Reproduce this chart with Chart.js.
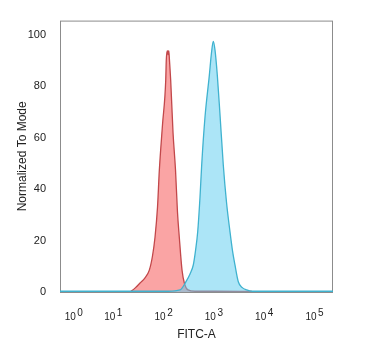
<!DOCTYPE html>
<html>
<head>
<meta charset="utf-8">
<script src="https://cdn.jsdelivr.net/npm/chart.js@4.4.1/dist/chart.umd.min.js"></script>
<style>
html,body{margin:0;padding:0;background:#fff;}
#wrap{width:378px;height:357px;position:relative;}
</style>
</head>
<body>
<div id="wrap"><canvas id="c" width="378" height="357"></canvas></div>
<script>
// x in display units of the biexponential FITC-A axis (decade positions)
const xTickPos = [0.213, 1, 2, 3, 4, 5];
const xTickBase = ["10", "10", "10", "10", "10", "10"];
const xTickExp = ["0", "1", "2", "3", "4", "5"];
const yTicks = [0, 20, 40, 60, 80, 100];
const xTitle = "FITC-A";
const yTitle = "Normalized To Mode";

const redX = [1.332, 1.431, 1.531, 1.630, 1.716, 1.779, 1.829, 1.879, 1.915, 1.978, 2.042, 2.053, 2.074, 2.087, 2.103, 2.117, 2.141, 2.187, 2.237, 2.276, 2.312, 2.366, 2.412, 2.485, 2.624, 3.022, 3.757];
const redY = [0, 1.5, 3.5, 5.5, 8.5, 14, 21.3, 33, 47.3, 65, 82.2, 90, 93.8, 92.2, 93.8, 90, 82.2, 62, 47.3, 31, 21.3, 8.5, 3.5, 0.8, 0.3, 0.3, 0.2];

const blueX = [-0.06, 2.087, 2.326, 2.445, 2.525, 2.590, 2.634, 2.678, 2.724, 2.757, 2.823, 2.909, 2.952, 2.988, 3.022, 3.068, 3.121, 3.187, 3.250, 3.320, 3.370, 3.419, 3.485, 3.559, 3.652, 3.757, 5.368];
const blueY = [0.3, 0.3, 0.8, 4.0, 7, 10.5, 16, 23.4, 37, 49.3, 68, 84.2, 93, 97.4, 94, 84.2, 69, 49.3, 35, 23.4, 16, 10.5, 4.0, 1.8, 0.8, 0.3, 0.3];

const pts = (xs, ys) => xs.map((x, i) => ({x: x, y: ys[i]}));
const FONT = "'Liberation Sans', Arial, sans-serif";

const boxPlugin = {
  id: 'box',
  beforeDatasetsDraw(chart) {
    const a = chart.chartArea, ctx = chart.ctx;
    ctx.save();
    ctx.strokeStyle = '#8c8c8c';
    ctx.lineWidth = 1;
    ctx.strokeRect(a.left + 0.5, a.top + 0.5, a.right - a.left - 1, a.bottom - a.top);
    ctx.restore();
  },
  afterDraw(chart) {
    const ctx = chart.ctx, xs = chart.scales.x;
    ctx.save();
    ctx.fillStyle = '#222';
    ctx.textBaseline = 'alphabetic';
    ctx.textAlign = 'left';
    const baseFont = '10px ' + FONT, expFont = '10px ' + FONT;
    xTickPos.forEach((v, i) => {
      const c = xs.getPixelForValue(v);
      ctx.font = baseFont;
      const wb = ctx.measureText(xTickBase[i]).width;
      ctx.font = expFont;
      const we = ctx.measureText(xTickExp[i]).width;
      const gap = 1.5;
      const start = c - (wb + gap + we) / 2;
      ctx.font = baseFont;
      ctx.fillText(xTickBase[i], start, xs.bottom - 37.5);
      ctx.font = expFont;
      ctx.fillText(xTickExp[i], start + wb + gap, xs.bottom - 41.5);
    });
    ctx.restore();
  }
};

new Chart(document.getElementById('c'), {
  type: 'line',
  data: {
    datasets: [
      {
        label: 'Isotype',
        data: pts(redX, redY),
        borderColor: '#c2474a',
        backgroundColor: 'rgba(245,90,90,0.55)',
        fill: 'origin',
        order: 2
      },
      {
        label: 'Antibody',
        data: pts(blueX, blueY),
        borderColor: '#3fb2cf',
        backgroundColor: 'rgba(95,205,240,0.52)',
        fill: 'origin',
        order: 1
      }
    ]
  },
  options: {
    responsive: false,
    animation: false,
    devicePixelRatio: 1,
    layout: { padding: { left: 0, top: 20, right: 45, bottom: 0 } },
    elements: {
      point: { radius: 0 },
      line: { borderWidth: 1.3, cubicInterpolationMode: 'monotone' }
    },
    plugins: { legend: { display: false }, tooltip: { enabled: false } },
    scales: {
      x: {
        type: 'linear',
        min: -0.06,
        max: 5.368,
        grid: { display: false },
        border: { display: false },
        ticks: { display: false },
        afterBuildTicks: s => { s.ticks = xTickPos.map(v => ({value: v})); },
        afterFit: s => { s.height = 65; },
        title: {
          display: true,
          text: xTitle,
          color: '#222',
          font: { family: FONT, size: 12 },
          padding: { top: 0, bottom: 15.3 }
        }
      },
      y: {
        type: 'linear',
        min: 0,
        max: 105.5,
        grid: { display: false, drawTicks: false },
        border: { display: false },
        afterBuildTicks: s => { s.ticks = yTicks.map(v => ({value: v})); },
        afterFit: s => { s.width = 60; },
        ticks: {
          color: '#222',
          font: { family: FONT, size: 11 },
          padding: 14
        },
        title: {
          display: true,
          text: yTitle,
          color: '#222',
          font: { family: FONT, size: 12 },
          padding: { top: 15, bottom: 0 }
        }
      }
    }
  },
  plugins: [boxPlugin]
});
</script>
</body>
</html>
